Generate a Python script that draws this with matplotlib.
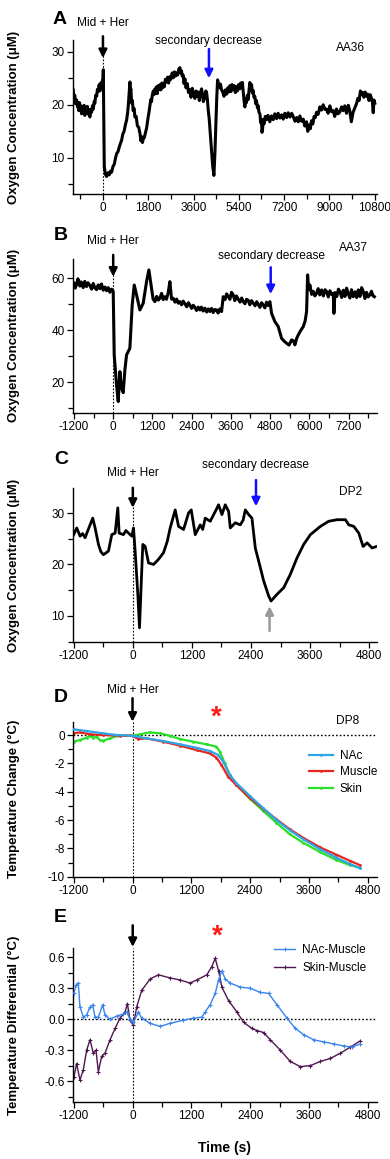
import matplotlib
matplotlib.use("Agg")
import matplotlib.pyplot as plt
from matplotlib.ticker import MultipleLocator, FormatStrFormatter

plt.rcParams['font.family'] = ['Liberation Sans', 'DejaVu Sans']
plt.rcParams['axes.unicode_minus'] = False

# ---- data ----
# A: AA36 oxygen trace (time s, O2 uM)
a_t = [-1180, -1150, -1120, -1090, -1046, -1010, -990, -960, -930, -900,
       -880, -850, -820, -781, -750, -720, -690, -650, -620, -583,
       -550, -520, -490, -450, -420, -384, -350, -320, -290, -250,
       -220, -185, -150, -120, -90, -53, -25, 0, 13, 53,
       100, 146, 200, 250, 300, 344, 400, 450, 500, 543,
       600, 640, 700, 741, 790, 840, 890, 940, 980, 1010,
       1040, 1072, 1090, 1110, 1139, 1170, 1200, 1240, 1271, 1320,
       1370, 1420, 1470, 1510, 1540, 1570, 1602, 1640, 1670, 1700,
       1734, 1770, 1800, 1830, 1867, 1900, 1930, 1960, 2000, 2030,
       2065, 2100, 2130, 2160, 2200, 2230, 2264, 2300, 2340, 2370,
       2400, 2440, 2480, 2529, 2570, 2610, 2660, 2700, 2750, 2794,
       2840, 2880, 2920, 2970, 3010, 3058, 3090, 3120, 3150, 3190,
       3220, 3257, 3300, 3350, 3400, 3456, 3500, 3550, 3600, 3654,
       3700, 3740, 3780, 3830, 3870, 3919, 3960, 3990, 4020, 4051,
       4090, 4120, 4150, 4184, 4220, 4250, 4290, 4316, 4360, 4409,
       4450, 4488, 4520, 4555, 4590, 4630, 4670, 4713, 4760, 4810,
       4860, 4912, 4960, 5000, 5040, 5090, 5130, 5177, 5220, 5260,
       5300, 5340, 5390, 5440, 5470, 5508, 5540, 5580, 5610, 5640,
       5670, 5700, 5740, 5773, 5810, 5840, 5870, 5905, 5940, 5970,
       6000, 6037, 6070, 6100, 6140, 6170, 6200, 6240, 6270, 6302,
       6320, 6342, 6370, 6400, 6450, 6501, 6560, 6630, 6700, 6766,
       6830, 6900, 6960, 7030, 7100, 7163, 7230, 7300, 7360, 7430,
       7500, 7560, 7630, 7700, 7760, 7825, 7890, 7960, 8020, 8090,
       8140, 8190, 8240, 8288, 8340, 8390, 8440, 8487, 8550, 8620,
       8680, 8752, 8820, 8880, 8950, 9016, 9080, 9150, 9210, 9281,
       9340, 9410, 9480, 9546, 9610, 9680, 9750, 9811, 9870, 9940,
       10010, 10076, 10130, 10180, 10230, 10274, 10320, 10370, 10420, 10473,
       10520, 10570, 10620, 10671, 10710, 10740, 10770, 10804]
a_o2 = [22.8, 21.0, 21.8, 20.2, 20.9, 19.6, 20.4, 18.9, 20.4, 19.2,
        19.8, 18.3, 19.6, 18.8, 19.9, 18.0, 19.2, 18.4, 19.7, 18.2,
        19.1, 17.7, 19.0, 18.6, 19.8, 19.2, 20.6, 20.3, 21.8, 21.6,
        22.9, 22.6, 23.8, 22.6, 24.1, 23.4, 24.5, 24.2, 26.6, 8.3,
        6.9, 6.5, 7.2, 6.8, 7.5, 7.3, 8.4, 8.8, 10.0, 10.8,
        11.2, 11.9, 12.8, 13.3, 14.5, 15.0, 16.2, 17.1, 18.5, 20.0,
        22.0, 24.3, 22.5, 23.0, 20.3, 20.8, 18.9, 19.3, 17.7, 17.8,
        16.0, 15.8, 14.6, 13.2, 14.0, 12.9, 13.6, 13.8, 14.4, 15.0,
        15.6, 16.8, 17.8, 18.6, 19.8, 21.0, 20.6, 21.8, 22.6, 21.9,
        23.0, 22.2, 23.4, 22.1, 23.6, 22.9, 23.8, 22.8, 24.1, 23.2,
        24.0, 23.4, 24.8, 24.3, 25.2, 24.1, 25.3, 24.8, 26.0, 25.1,
        26.2, 25.4, 26.0, 25.6, 26.7, 27.0, 26.0, 26.4, 25.4, 25.6,
        24.0, 24.9, 23.2, 24.0, 22.3, 22.8, 21.4, 23.1, 22.0, 21.2,
        22.6, 21.6, 22.4, 20.8, 22.2, 23.0, 21.8, 20.6, 21.9, 21.1,
        22.6, 22.2, 21.0, 19.0, 17.5, 15.5, 13.0, 11.4, 8.5, 6.7,
        11.0, 16.5, 21.0, 24.7, 24.0, 23.2, 23.9, 22.8, 22.4, 21.6,
        22.8, 22.0, 23.2, 22.4, 23.6, 22.5, 23.8, 22.9, 23.6, 22.3,
        23.4, 22.6, 23.8, 23.0, 24.1, 23.5, 24.2, 22.2, 20.6, 19.6,
        21.2, 20.4, 21.8, 21.0, 23.0, 24.2, 22.8, 23.8, 22.2, 22.7,
        21.4, 21.6, 20.2, 20.8, 19.4, 19.8, 18.6, 18.2, 16.6, 17.2,
        14.8, 15.4, 17.2, 16.4, 17.8, 17.2, 18.0, 16.8, 17.9, 17.2,
        18.3, 17.4, 18.4, 17.5, 18.1, 17.3, 18.4, 17.6, 18.5, 17.7,
        18.4, 17.8, 16.9, 17.6, 16.8, 17.9, 16.9, 17.3, 16.0, 16.8,
        15.0, 16.2, 15.5, 17.0, 16.4, 17.8, 17.6, 18.6, 18.2, 19.6,
        19.0, 20.0, 19.1, 19.2, 18.4, 19.8, 18.7, 18.9, 17.8, 19.2,
        18.3, 18.6, 19.6, 18.9, 19.8, 18.4, 19.9, 18.8, 16.8, 18.6,
        19.4, 20.2, 21.2, 20.8, 22.6, 21.9, 22.3, 21.4, 22.4, 21.6,
        22.0, 20.8, 21.9, 21.2, 20.4, 18.5, 20.9, 20.3]

# B: AA37 oxygen trace
b_t = [-1200, -1160, -1122, -1080, -1020, -980, -918, -870, -816, -770,
       -714, -660, -612, -560, -510, -460, -408, -360, -306, -250,
       -204, -150, -102, -50, 0, 31, 102, 153, 204, 255,
       306, 357, 408, 510, 581, 643, 714, 816, 918, 1020,
       1091, 1173, 1220, 1275, 1330, 1380, 1428, 1480, 1530, 1581,
       1630, 1683, 1734, 1785, 1836, 1890, 1940, 1990, 2040, 2090,
       2140, 2193, 2250, 2300, 2346, 2400, 2450, 2499, 2550, 2600,
       2652, 2700, 2750, 2805, 2860, 2910, 2958, 3010, 3060, 3110,
       3162, 3210, 3260, 3315, 3366, 3420, 3470, 3519, 3570, 3620,
       3672, 3720, 3770, 3825, 3880, 3930, 3978, 4030, 4080, 4131,
       4180, 4230, 4284, 4340, 4390, 4437, 4490, 4540, 4590, 4640,
       4690, 4740, 4794, 4845, 4947, 5049, 5151, 5230, 5304, 5380,
       5457, 5510, 5559, 5610, 5661, 5740, 5814, 5870, 5916, 5947,
       5980, 6018, 6070, 6120, 6170, 6222, 6270, 6320, 6375, 6430,
       6480, 6528, 6580, 6630, 6681, 6732, 6752, 6783, 6840, 6890,
       6936, 6990, 7040, 7090, 7140, 7190, 7240, 7290, 7344, 7400,
       7450, 7497, 7550, 7600, 7650, 7700, 7750, 7800, 7854, 7900,
       7950, 7990]
b_o2 = [58.1, 56.2, 57.6, 59.8, 57.0, 58.6, 56.4, 58.8, 56.8, 58.3,
        57.2, 55.8, 58.0, 56.3, 55.6, 57.4, 56.0, 57.8, 55.4, 56.6,
        55.2, 56.4, 54.6, 55.8, 55.0, 30.5, 19.0, 12.6, 24.1, 17.7,
        16.0, 24.7, 30.5, 33.1, 49.7, 57.4, 53.6, 47.8, 50.4, 58.7,
        63.2, 56.2, 52.0, 51.0, 53.0, 51.6, 52.3, 54.2, 51.8, 52.9,
        51.9, 54.5, 58.7, 52.0, 52.3, 50.8, 52.0, 50.4, 51.0, 49.8,
        51.2, 50.2, 49.0, 50.6, 49.7, 48.4, 49.6, 48.8, 47.6, 48.9,
        47.8, 48.9, 47.4, 48.5, 47.0, 48.2, 47.2, 48.4, 46.8, 48.0,
        47.8, 46.6, 48.2, 47.2, 52.9, 51.8, 54.0, 53.0, 51.9, 54.6,
        53.6, 51.4, 53.2, 52.0, 50.8, 52.4, 51.0, 50.2, 51.9, 51.5,
        49.8, 51.4, 50.4, 49.4, 51.0, 50.0, 48.8, 50.6, 49.7, 48.6,
        50.8, 49.5, 51.0, 46.5, 43.3, 41.4, 36.9, 35.8, 35.0, 34.3,
        36.3, 36.0, 34.4, 36.8, 38.2, 40.0, 41.4, 43.5, 47.2, 61.3,
        55.8, 57.4, 53.8, 55.0, 53.2, 54.2, 56.0, 53.6, 55.5, 53.2,
        55.6, 54.9, 52.8, 55.2, 53.8, 54.2, 46.5, 54.5, 53.0, 55.8,
        54.9, 52.6, 55.4, 53.0, 56.2, 54.0, 52.4, 55.6, 52.9, 54.8,
        52.6, 55.5, 53.0, 56.4, 54.9, 52.2, 54.6, 52.8, 53.6, 55.0,
        53.2, 52.9]

# C: DP2 oxygen trace
c_t = [-1200, -1139, -1071, -1020, -970, -868, -814, -766, -698, -650,
       -597, -495, -427, -359, -305, -278, -190, -140, -88, -20,
       14, 47, 102, 136, 170, 203, 251, 319, 420, 522,
       624, 700, 759, 861, 929, 1031, 1132, 1187, 1268, 1370,
       1420, 1471, 1573, 1675, 1742, 1810, 1878, 1946, 1980, 2081,
       2183, 2240, 2285, 2353, 2420, 2488, 2590, 2658, 2759, 2807,
       2929, 3065, 3200, 3336, 3471, 3607, 3810, 3980, 4149, 4319,
       4387, 4488, 4590, 4678, 4760, 4861, 4950]
c_o2 = [25.8, 27.1, 25.5, 26.0, 25.2, 27.7, 29.0, 27.1, 23.9, 22.5,
        21.9, 22.6, 25.8, 26.1, 31.0, 26.1, 25.8, 26.6, 26.1, 25.5,
        27.1, 22.6, 14.2, 7.7, 16.1, 23.9, 23.5, 20.3, 20.0, 21.0,
        22.3, 24.5, 27.1, 30.6, 27.4, 26.8, 30.0, 30.6, 25.8, 27.7,
        26.8, 29.0, 28.4, 30.3, 31.6, 29.7, 31.6, 30.3, 27.1, 28.1,
        27.7, 28.6, 30.6, 29.7, 29.0, 23.2, 19.4, 16.8, 13.9, 12.9,
        14.2, 15.5, 18.1, 21.3, 23.9, 25.8, 27.4, 28.4, 28.7, 28.7,
        27.7, 27.4, 26.1, 23.5, 24.2, 23.2, 23.5]

# D: DP8 temperature change (deg C)
nac_t = [-1200, -938, -598, -326, 0, 286, 626, 966, 1306, 1578, 1748, 1850, 1986, 2122, 2394, 2666, 2938, 3210, 3482, 3822,
         4162, 4434, 4638]
nac_dt = [0.4, 0.28, 0.12, 0.0, -0.05, -0.24, -0.42, -0.66, -0.9, -1.13, -1.41, -1.88, -2.82, -3.4, -4.3, -5.15, -6.0, -6.72,
          -7.35, -8.05, -8.65, -9.1, -9.4]
mus_t = [-1200, -1074, -870, -598, -258, 0, 116, 286, 626, 966, 1306, 1578, 1714, 1816, 1952, 2122, 2394, 2666, 2938, 3210,
         3482, 3822, 4162, 4434, 4638]
mus_dt = [0.12, 0.19, 0.05, 0.0, -0.05, -0.05, -0.28, -0.24, -0.47, -0.75, -1.06, -1.3, -1.6, -2.12, -2.94, -3.55, -4.45, -5.2,
          -5.95, -6.65, -7.25, -7.92, -8.45, -8.87, -9.18]
skin_t = [-1200, -1074, -938, -870, -802, -734, -666, -598, -462, -326, 0, 150, 354, 558, 762, 966, 1238, 1510, 1714, 1782,
          1884, 1986, 2122, 2394, 2666, 2938, 3210, 3482, 3822, 4162, 4434, 4638]
skin_dt = [-0.47, -0.35, -0.19, -0.05, -0.19, -0.12, -0.35, -0.4, -0.24, -0.07, -0.05, 0.05, 0.19, 0.12, -0.05, -0.28, -0.47,
           -0.66, -0.82, -1.18, -2.0, -2.82, -3.5, -4.5, -5.35, -6.2, -7.0, -7.6, -8.25, -8.82, -9.18, -9.36]

# E: temperature differentials (deg C)
nm_t = [-1200, -1159, -1112, -1078, -1009, -941, -873, -818, -771, -702, -614, -566, -464, -327, -191, -123, -55, 14, 116, 184,
        355, 559, 764, 1037, 1241, 1412, 1480, 1582, 1685, 1753, 1821, 1889, 1992, 2196, 2401, 2606, 2776, 2946, 3151, 3322,
        3492, 3697, 3901, 4106, 4311, 4481, 4651]
nm_d = [0.25, 0.33, 0.35, 0.12, 0.02, 0.04, 0.12, 0.14, 0.02, 0.02, 0.14, 0.04, 0.0, 0.03, 0.05, 0.07, 0.0, -0.03, 0.07, 0.01,
        -0.04, -0.07, -0.04, -0.01, 0.01, 0.02, 0.07, 0.14, 0.25, 0.38, 0.47, 0.39, 0.35, 0.31, 0.30, 0.26, 0.25, 0.14, 0.01, -0.09,
        -0.15, -0.2, -0.22, -0.24, -0.26, -0.27, -0.24]
sm_t = [-1200, -1146, -1078, -1009, -941, -873, -805, -750, -702, -634, -566, -464, -361, -259, -157, -109, -55, 14, 82, 184,
        355, 525, 764, 968, 1173, 1309, 1514, 1616, 1685, 1753, 1821, 1958, 2128, 2264, 2435, 2537, 2674, 2810, 3015, 3219,
        3424, 3628, 3833, 4037, 4242, 4447, 4651]
sm_d = [-0.56, -0.43, -0.59, -0.49, -0.30, -0.20, -0.33, -0.30, -0.51, -0.36, -0.33, -0.20, -0.09, 0.01, 0.07, 0.15, -0.01, -0.06,
        0.12, 0.28, 0.39, 0.43, 0.40, 0.38, 0.35, 0.38, 0.43, 0.51, 0.59, 0.47, 0.31, 0.18, 0.07, -0.03, -0.09, -0.11, -0.13, -0.20,
        -0.30, -0.41, -0.46, -0.45, -0.41, -0.38, -0.33, -0.27, -0.21]

W, H = 390, 1159
fig = plt.figure(figsize=(W / 100, H / 100), dpi=100)


def make_ax(top, bottom):
    ax = fig.add_axes([73 / W, 1 - bottom / H, 304 / W, (bottom - top) / H])
    for s in ['top', 'right']:
        ax.spines[s].set_visible(False)
    for s in ['left', 'bottom']:
        ax.spines[s].set_linewidth(1.0)
    ax.tick_params(which='both', direction='out', width=0.9, labelsize=8.5, pad=2)
    ax.tick_params(which='major', length=4)
    ax.tick_params(which='minor', length=3.5)
    return ax


def vline0(ax):
    ax.axvline(0, color='k', lw=0.8, ls=(0, (1.5, 1.5)), zorder=1)


def hline0(ax):
    ax.axhline(0, color='k', lw=1.0, ls=(0, (1.2, 1.5)), zorder=1)


def arrow(ax, x, y0, y1, color='k'):
    ax.annotate('', xy=(x, y1), xytext=(x, y0), annotation_clip=False,
                arrowprops=dict(arrowstyle='-|>', color=color, lw=1.8, mutation_scale=12,
                                shrinkA=0, shrinkB=0))


ylab_kw = dict(fontsize=9.5, fontweight='bold')
note_kw = dict(fontsize=8.6, ha='center', va='center', clip_on=False)

# ---- A ----
ax = make_ax(40, 194)
vline0(ax)
ax.plot(a_t, a_o2, color='k', lw=2.2, zorder=3)
ax.set_xlim(-1190, 10890)
ax.set_ylim(3.2, 32.2)
ax.xaxis.set_major_locator(MultipleLocator(1800))
ax.xaxis.set_minor_locator(MultipleLocator(900))
ax.yaxis.set_major_locator(MultipleLocator(10))
ax.yaxis.set_minor_locator(MultipleLocator(5))
ax.set_ylabel('Oxygen Concentration (μM)', **ylab_kw)
ax.yaxis.set_label_coords(-0.175, 0.5)
arrow(ax, 0, 32.9, 28.8)
arrow(ax, 4212, 30.5, 25.0, color='#1010ff')
ax.text(0, 35.4, 'Mid + Her', **note_kw)
ax.text(4212, 32.0, 'secondary decrease', **note_kw)
ax.text(9854, 30.7, 'AA36', **note_kw)
fig.text(60 / W, 1 - 19 / H, 'A', fontsize=14, fontweight='bold', ha='center', va='center')

# ---- B ----
ax = make_ax(259, 412.7)
vline0(ax)
ax.plot(b_t, b_o2, color='k', lw=2.2, zorder=3)
ax.set_xlim(-1230, 8070)
ax.set_ylim(8.3, 67.4)
ax.xaxis.set_major_locator(MultipleLocator(1200))
ax.xaxis.set_minor_locator(MultipleLocator(600))
ax.yaxis.set_major_locator(MultipleLocator(20))
ax.yaxis.set_minor_locator(MultipleLocator(10))
ax.set_ylabel('Oxygen Concentration (μM)', **ylab_kw)
ax.yaxis.set_label_coords(-0.175, 0.5)
arrow(ax, 0, 69.0, 60.6)
arrow(ax, 4818, 64.2, 53.9, color='#1010ff')
ax.text(0, 74.3, 'Mid + Her', **note_kw)
ax.text(4830, 68.6, 'secondary decrease', **note_kw)
ax.text(7338, 71.8, 'AA37', **note_kw)
fig.text(61 / W, 1 - 235 / H, 'B', fontsize=14, fontweight='bold', ha='center', va='center')

# ---- C ----
ax = make_ax(488.3, 641.7)
vline0(ax)
ax.plot(c_t, c_o2, color='k', lw=2.0, zorder=3)
ax.set_xlim(-1215, 4960)
ax.set_ylim(5.0, 34.8)
ax.xaxis.set_major_locator(MultipleLocator(1200))
ax.xaxis.set_minor_locator(MultipleLocator(600))
ax.yaxis.set_major_locator(MultipleLocator(10))
ax.yaxis.set_minor_locator(MultipleLocator(5))
ax.set_ylabel('Oxygen Concentration (μM)', **ylab_kw)
ax.yaxis.set_label_coords(-0.175, 0.5)
arrow(ax, 0, 34.9, 31.0)
arrow(ax, 2502, 36.4, 31.3, color='#1010ff')
arrow(ax, 2778, 7.1, 11.9, color='#999999')
ax.text(0, 37.8, 'Mid + Her', **note_kw)
ax.text(2497, 39.3, 'secondary decrease', **note_kw)
ax.text(4420, 34.0, 'DP2', **note_kw)
fig.text(61 / W, 1 - 460 / H, 'C', fontsize=14, fontweight='bold', ha='center', va='center')

# ---- D ----
ax = make_ax(721.7, 876.7)
vline0(ax)
hline0(ax)
ax.plot(nac_t, nac_dt, color='#2fa4e7', lw=1.6, marker='.', ms=2, label='NAc', zorder=3)
ax.plot(mus_t, mus_dt, color='#e8251f', lw=1.6, marker='.', ms=2, label='Muscle', zorder=2.5)
ax.plot(skin_t, skin_dt, color='#27e027', lw=1.6, marker='.', ms=2, label='Skin', zorder=2)
ax.set_xlim(-1215, 4990)
ax.set_ylim(-10, 0.94)
ax.xaxis.set_major_locator(MultipleLocator(1200))
ax.xaxis.set_minor_locator(MultipleLocator(600))
ax.yaxis.set_major_locator(MultipleLocator(2))
ax.yaxis.set_minor_locator(MultipleLocator(1))
ax.set_ylabel('Temperature Change (°C)', **ylab_kw)
ax.yaxis.set_label_coords(-0.175, 0.5)
arrow(ax, 0, 2.6, 0.94)
ax.text(0, 3.2, 'Mid + Her', **note_kw)
ax.text(1708, 1.2, '*', color='#ff1a1a', fontsize=20, fontweight='bold', ha='center', va='center', clip_on=False)
ax.text(4391, 1.02, 'DP8', **note_kw)
ax.legend(loc='upper left', bbox_to_anchor=(0.745, 0.88), frameon=False, fontsize=8.5,
          handlelength=2.0, handletextpad=0.6, labelspacing=0.4, borderpad=0.3)
fig.text(61 / W, 1 - 697 / H, 'D', fontsize=14, fontweight='bold', ha='center', va='center')

# ---- E ----
ax = make_ax(948, 1101.7)
vline0(ax)
hline0(ax)
ax.plot(nm_t, nm_d, color='#3a84ee', lw=1.0, marker='+', ms=3, mew=0.8, label='NAc-Muscle', zorder=3)
ax.plot(sm_t, sm_d, color='#4e1650', lw=1.0, marker='+', ms=3, mew=0.8, label='Skin-Muscle', zorder=2)
ax.set_xlim(-1220, 4990)
ax.set_ylim(-0.8, 0.69)
ax.xaxis.set_major_locator(MultipleLocator(1200))
ax.xaxis.set_minor_locator(MultipleLocator(600))
ax.yaxis.set_major_locator(MultipleLocator(0.3))
ax.yaxis.set_minor_locator(MultipleLocator(0.15))
ax.yaxis.set_major_formatter(FormatStrFormatter('%.1f'))
ax.set_ylabel('Temperature Differential (°C)', **ylab_kw)
ax.yaxis.set_label_coords(-0.175, 0.5)
ax.set_xlabel('Time (s)', fontsize=10, fontweight='bold', labelpad=14)
arrow(ax, 0, 0.91, 0.70)
ax.text(1726, 0.80, '*', color='#ff1a1a', fontsize=20, fontweight='bold', ha='center', va='center', clip_on=False)
ax.legend(loc='upper left', bbox_to_anchor=(0.63, 1.085), frameon=False, fontsize=8.5,
          handlelength=1.8, handletextpad=0.6, labelspacing=0.5, borderpad=0.3)
fig.text(60 / W, 1 - 917 / H, 'E', fontsize=14, fontweight='bold', ha='center', va='center')

fig.savefig('out.png', dpi=100)
